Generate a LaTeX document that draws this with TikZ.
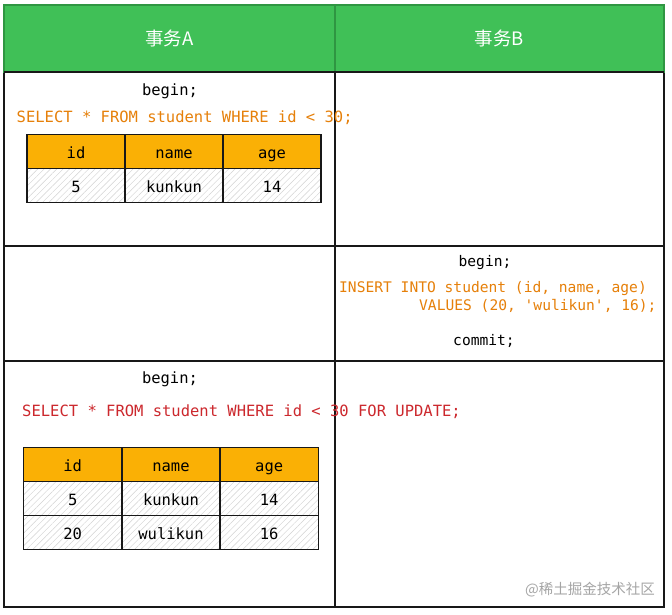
\documentclass[tikz,border=0pt]{standalone}
\usepackage{fontspec}
\setmonofont{DejaVu Sans Mono}
\newfontfamily\cjk{Noto Sans CJK SC}
\usetikzlibrary{patterns.meta}
\definecolor{hdrgreen}{RGB}{64,192,87}
\definecolor{hdrline}{RGB}{47,150,66}
\definecolor{sqlorange}{RGB}{230,128,10}
\definecolor{sqlred}{RGB}{204,40,45}
\definecolor{thfill}{RGB}{250,176,5}
\definecolor{ink}{RGB}{24,24,24}
\definecolor{wmgray}{RGB}{165,165,165}
\tikzset{
  cellbox/.style={draw=ink, line width=1.6pt, inner sep=0pt, outer sep=0pt},
  hdr/.style={draw=hdrline, fill=hdrgreen, line width=1.2pt, inner sep=0pt, outer sep=0pt,
    text=white, font=\cjk\fontsize{18.5}{22}\selectfont, minimum height=67pt},
  code/.style={inner sep=0pt, font=\ttfamily\fontsize{15.5}{18}\selectfont},
  codes/.style={inner sep=0pt, font=\ttfamily\fontsize{14.6}{17}\selectfont},
  th/.style={draw=ink, line width=1.4pt, fill=thfill, inner sep=0pt, outer sep=0pt,
    minimum width=98pt, minimum height=34pt, text height=14pt, text depth=0pt,
    font=\ttfamily\fontsize{15.5}{18}\selectfont},
  td/.style={draw=ink, line width=1.4pt,
    pattern={Lines[angle=45,distance=4.5pt,line width=0.45pt]}, pattern color=gray!35,
    inner sep=0pt, outer sep=0pt, text height=14pt, text depth=0pt,
    minimum width=98pt, minimum height=34pt, font=\ttfamily\fontsize{15.5}{18}\selectfont},
  wm/.style={inner sep=0pt, text=wmgray, font=\cjk\fontsize{14.5}{17}\selectfont}
}
\begin{document}
\begin{tikzpicture}[x=1pt,y=-1pt]
\useasboundingbox (0,0) rectangle (672,614);
\fill[white] (0,0) rectangle (672,614);
% body cells
\node[cellbox, minimum width=331pt, minimum height=174pt] (a1) at (169.5,159) {};
\node[cellbox, minimum width=329pt, minimum height=174pt] (b1) at (499.5,159) {};
\node[cellbox, minimum width=331pt, minimum height=115pt] (a2) at (169.5,303.5) {};
\node[cellbox, minimum width=329pt, minimum height=115pt] (b2) at (499.5,303.5) {};
\node[cellbox, minimum width=331pt, minimum height=246pt] (a3) at (169.5,484) {};
\node[cellbox, minimum width=329pt, minimum height=246pt] (b3) at (499.5,484) {};
% headers
\node[hdr, minimum width=331pt] (ha) at (169.5,38.5) {事务A};
\node[hdr, minimum width=329pt] (hb) at (499.5,38.5) {事务B};
\draw[ink, line width=1.6pt] (ha.south west) -- (hb.south east);
% row 1
\node[code] (begA1) at (170,91) {begin;};
\node[code, text=sqlorange, anchor=west] (selA1) at (16.5,118) {SELECT * FROM student WHERE id < 30;};
\node[th] (t1h1) at (76,151.4) {id};
\node[th] (t1h2) at (174,151.4) {name};
\node[th] (t1h3) at (272,151.4) {age};
\node[td] (t1r1) at (76,185.4) {5};
\node[td] (t1r2) at (174,185.4) {kunkun};
\node[td] (t1r3) at (272,185.4) {14};
% row 2
\node[codes] (begB2) at (485,262.5) {begin;};
\node[codes, text=sqlorange, anchor=west] (insB2) at (339,288.5) {INSERT INTO student (id, name, age)};
\node[codes, text=sqlorange, anchor=west] (valB2) at (419,306) {VALUES (20, 'wulikun', 16);};
\node[codes] (comB2) at (484,341) {commit;};
% row 3
\node[code] (begA3) at (170,379.3) {begin;};
\node[code, text=sqlred, anchor=west] (selA3) at (22,411.7) {SELECT * FROM student WHERE id < 30 FOR UPDATE;};
\node[th] (t2h1) at (72.7,464.7) {id};
\node[th] (t2h2) at (171,464.7) {name};
\node[th] (t2h3) at (269.2,464.7) {age};
\node[td] (t2r1) at (72.7,498.7) {5};
\node[td] (t2r2) at (171,498.7) {kunkun};
\node[td] (t2r3) at (269.2,498.7) {14};
\node[td] (t2s1) at (72.7,532.7) {20};
\node[td] (t2s2) at (171,532.7) {wulikun};
\node[td] (t2s3) at (269.2,532.7) {16};
% watermark
\node[wm, anchor=east] (wmk) at (655,590) {@稀土掘金技术社区};
\end{tikzpicture}
\end{document}
